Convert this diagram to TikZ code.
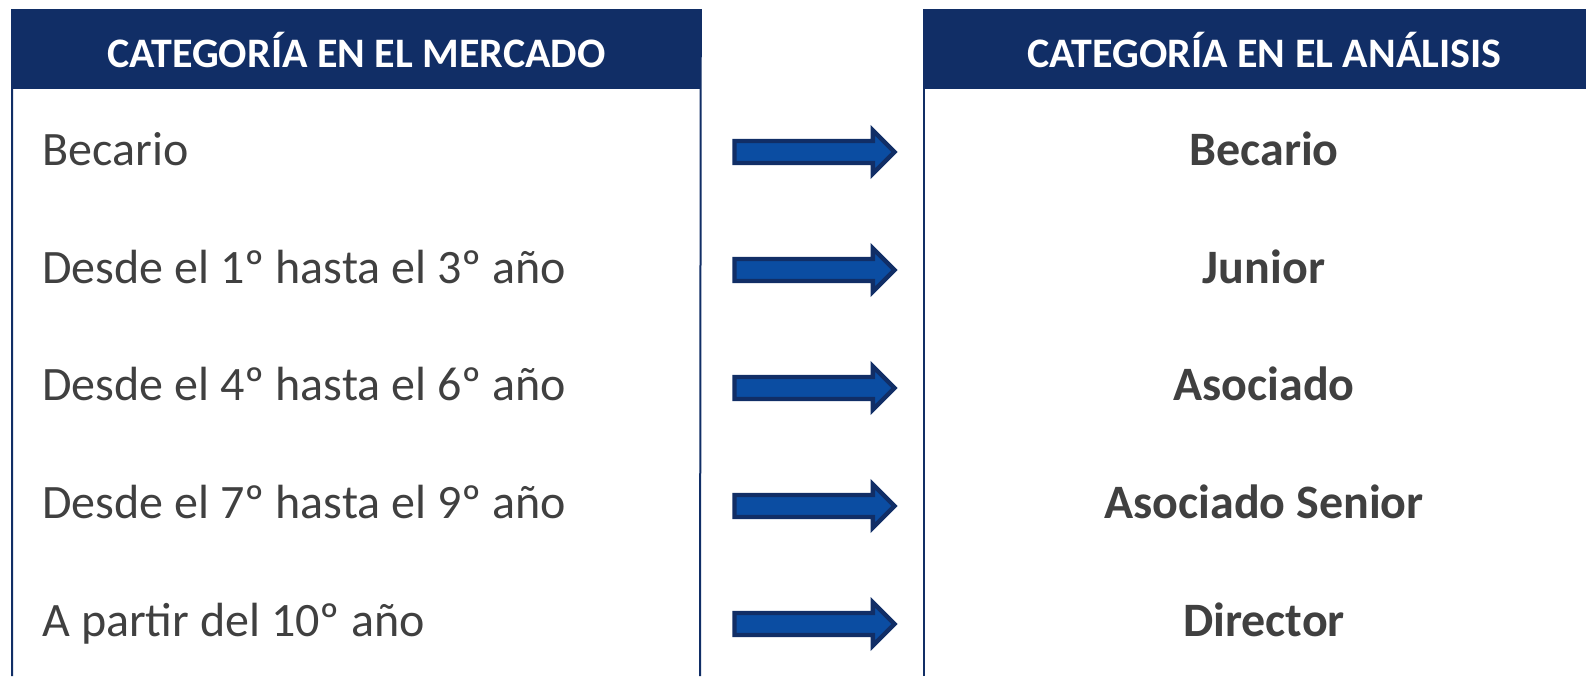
\documentclass[tikz,border=0pt]{standalone}
\usepackage{fontspec}
\setmainfont{Carlito}
\usepackage{tikz}
\usetikzlibrary{shapes.arrows}
\usetikzlibrary{positioning}
\definecolor{azuloscuro}{HTML}{112E66}
\definecolor{azulflecha}{HTML}{0B4DA2}
\definecolor{gristexto}{HTML}{404040}
\tikzset{
  Marco/.style={draw=azuloscuro, line width=1pt}, % fuer Rahmen
  Cabecera/.style={fill=azuloscuro, text=white, anchor=north west, inner sep=0pt,
    minimum height=39.5pt, font={\fontsize{21}{25}\selectfont\bfseries}},% Kopfzeile
  Fila/.style={text=gristexto, inner sep=0pt, font={\fontsize{24}{28}\selectfont}},% linke Spalte
  Resultado/.style={Fila, font={\fontsize{24}{28}\selectfont\bfseries}},% rechte Spalte
  Flecha/.style={single arrow, draw=azuloscuro, fill=azulflecha, line width=2.2pt,
    inner sep=4.4pt, minimum height=80pt, minimum width=19.5pt,
    single arrow head extend=5.35pt, single arrow tip angle=90} % Blockpfeil
}
\begin{document}
\begin{tikzpicture}[x=0.5pt, y=-0.5pt]
\useasboundingbox (0,0) rectangle (1586,676);

%Cabeceras
\node[Cabecera, minimum width=344pt] (K1) at (12,10) {CATEGORÍA EN EL MERCADO};
\node[Cabecera, minimum width=340pt] (K2) at (924,10) {CATEGORÍA EN EL ANÁLISIS};

%Marcos
\draw[Marco] (12,676) -- (K1.north west) -- (K1.north east) -- (700,676);
\draw[Marco] (924,676) -- (K2.north west) -- (K2.north east);

%Filas
\node[Fila, anchor=base west] (M1) at (42,165) {Becario};
\node[Fila, anchor=base west] (M2) at (42,283) {Desde el 1º hasta el 3º año};
\node[Fila, anchor=base west] (M3) at (42,400) {Desde el 4º hasta el 6º año};
\node[Fila, anchor=base west] (M4) at (42,518) {Desde el 7º hasta el 9º año};
\node[Fila, anchor=base west] (M5) at (42,636) {A partir del 10º año};

\node[Resultado, anchor=base] (A1) at (1264,165) {Becario};
\node[Resultado, anchor=base] (A2) at (1264,283) {Junior};
\node[Resultado, anchor=base] (A3) at (1264,400) {Asociado};
\node[Resultado, anchor=base] (A4) at (1264,518) {Asociado Senior};
\node[Resultado, anchor=base] (A5) at (1264,636) {Director};

%Flechas
\node[Flecha] (F1) at (809,152) {};
\node[Flecha] (F2) at (809,270) {};
\node[Flecha] (F3) at (809,388) {};
\node[Flecha] (F4) at (809,506) {};
\node[Flecha] (F5) at (809,624) {};

\end{tikzpicture}
\end{document}
